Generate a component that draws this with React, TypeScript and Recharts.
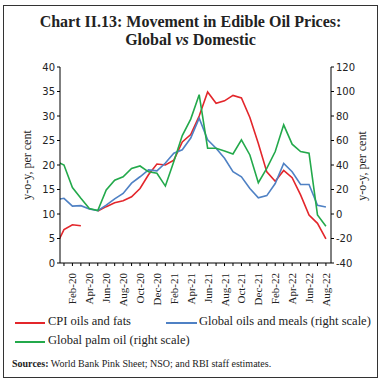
import React from "react";
import { LineChart, Line, XAxis, YAxis } from "recharts";

const months = [
  "Dec-19", "Jan-20", "Feb-20", "Mar-20", "Apr-20", "May-20", "Jun-20", "Jul-20", "Aug-20",
  "Sep-20", "Oct-20", "Nov-20", "Dec-20", "Jan-21", "Feb-21", "Mar-21", "Apr-21", "May-21",
  "Jun-21", "Jul-21", "Aug-21", "Sep-21", "Oct-21", "Nov-21", "Dec-21", "Jan-22", "Feb-22",
  "Mar-22", "Apr-22", "May-22", "Jun-22", "Jul-22", "Aug-22",
];

// left scale, per cent
const cpiOilsFats = [
  3.3, 6.8, 7.8, 7.6, null, 10.6, 11.5, 12.3, 12.7, 13.5, 15.2, 18.0, 20.2, 20.0, 21.0, 24.7,
  26.2, 30.0, 34.9, 32.6, 33.1, 34.2, 33.7, 29.7, 24.4, 18.6, 16.7, 18.9, 17.4, 13.9, 9.8, 8.1, 4.9,
];

// right scale
const globalOilsMeals = [
  11.6, 12.8, 6.4, 6.8, 4.0, 2.8, 7.2, 12.4, 16.8, 25.2, 30.4, 36.0, 35.2, 41.6, 49.6, 52.4,
  62.0, 78.2, 60.5, 53.7, 45.5, 34.5, 30.4, 20.8, 13.2, 15.0, 24.9, 41.3, 34.5, 24.1, 24.1, 7.1, 5.7,
];

const globalPalmOil = [
  43.4, 40.0, 21.6, 12.8, 4.4, 2.8, 19.6, 27.6, 30.4, 37.2, 39.2, 34.4, 33.2, 22.8, 42.8, 64.0,
  77.5, 97.4, 53.7, 53.7, 51.5, 49.0, 60.5, 48.2, 25.5, 37.3, 51.0, 72.8, 57.0, 51.0, 49.6, -0.8, -10.0,
];

const leftTicks = [0, 5, 10, 15, 20, 25, 30, 35, 40];
const rightTicks = [-40, -20, 0, 20, 40, 60, 80, 100, 120];
const xTicks = months.map((_, i) => i).filter((i) => i >= 1);

const data = months.map((m, i) => ({
  idx: i,
  month: m,
  cpi: cpiOilsFats[i],
  oils: globalOilsMeals[i],
  palm: globalPalmOil[i],
}));

const RED = "#e3262b";
const BLUE = "#4f81c4";
const GREEN = "#23a94b";
const serif = "'Liberation Serif', 'Times New Roman', serif";
const sans = "'DejaVu Sans', Verdana, sans-serif";

function XTick(props: any) {
  const { x, y, payload } = props;
  const i = payload.value;
  if (i % 2 !== 0) return null;
  return (
    <text
      transform={`translate(${x + 4},${y + 5}) rotate(-90)`}
      textAnchor="end"
      fontFamily={serif}
      fontSize={11}
      fill="#222"
    >
      {months[i]}
    </text>
  );
}

const rotLabel = (x: number, y: number): React.CSSProperties => ({
  position: "absolute",
  left: x,
  top: y,
  transform: "translate(-50%, -50%) rotate(-90deg)",
  whiteSpace: "nowrap",
  fontFamily: serif,
  fontSize: 12,
  color: "#222",
});

export default function App() {
  return (
    <div
      style={{
        position: "absolute",
        left: 0,
        top: 0,
        width: 381,
        height: 384,
        background: "#fff",
        overflow: "hidden",
      }}
    >
      <div
        style={{
          position: "absolute",
          left: 3,
          top: 5,
          width: 373,
          height: 371,
          border: "1px solid #333",
        }}
      />
      <div
        style={{
          position: "absolute",
          left: 0,
          top: 13,
          width: 381,
          textAlign: "center",
          fontFamily: serif,
          fontWeight: "bold",
          fontSize: 16,
          lineHeight: "18px",
          color: "#222",
        }}
      >
        Chart II.13: Movement in Edible Oil Prices:
        <br />
        Global <i>vs</i> Domestic
      </div>

      <div style={{ position: "absolute", left: 0, top: 0 }}>
        <LineChart
          width={381}
          height={384}
          data={data}
          margin={{ top: 67, right: 10, bottom: 76, left: 15 }}
        >
          <XAxis
            dataKey="idx"
            type="number"
            domain={[0.53, 32.6]}
            ticks={xTicks}
            interval={0}
            allowDataOverflow
            height={45}
            tickSize={3}
            tick={<XTick />}
            axisLine={{ stroke: "#000" }}
            tickLine={{ stroke: "#000" }}
          />
          <YAxis
            yAxisId="left"
            domain={[0, 40]}
            ticks={leftTicks}
            width={45}
            tickSize={3}
            axisLine={{ stroke: "#000" }}
            tickLine={{ stroke: "#000" }}
            tick={{ fontFamily: sans, fontSize: 10, fill: "#222" }}
          />
          <YAxis
            yAxisId="right"
            orientation="right"
            domain={[-40, 120]}
            ticks={rightTicks}
            width={40}
            tickSize={3}
            axisLine={{ stroke: "#000" }}
            tickLine={{ stroke: "#000" }}
            tick={{ fontFamily: sans, fontSize: 10, fill: "#222" }}
          />
          <Line
            yAxisId="left"
            dataKey="cpi"
            stroke={RED}
            strokeWidth={1.6}
            dot={false}
            isAnimationActive={false}
          />
          <Line
            yAxisId="right"
            dataKey="oils"
            stroke={BLUE}
            strokeWidth={1.6}
            dot={false}
            isAnimationActive={false}
          />
          <Line
            yAxisId="right"
            dataKey="palm"
            stroke={GREEN}
            strokeWidth={1.6}
            dot={false}
            isAnimationActive={false}
          />
        </LineChart>
      </div>

      <div style={rotLabel(27, 165)}>y-o-y, per cent</div>
      <div style={rotLabel(362, 166)}>y-o-y, per cent</div>

      {/* legend */}
      <div style={{ position: "absolute", left: 15, top: 322, width: 30, height: 2, background: RED }} />
      <div style={{ position: "absolute", left: 48, top: 314, fontFamily: serif, fontSize: 12.5, color: "#222" }}>
        CPI oils and fats
      </div>
      <div style={{ position: "absolute", left: 166, top: 322, width: 31, height: 2, background: BLUE }} />
      <div style={{ position: "absolute", left: 199, top: 314, fontFamily: serif, fontSize: 12.5, color: "#222" }}>
        Global oils and meals (right scale)
      </div>
      <div style={{ position: "absolute", left: 15, top: 341, width: 30, height: 1.5, background: GREEN }} />
      <div style={{ position: "absolute", left: 48, top: 333, fontFamily: serif, fontSize: 12.5, color: "#222" }}>
        Global palm oil (right scale)
      </div>

      <div
        style={{
          position: "absolute",
          left: 12,
          top: 358,
          fontFamily: serif,
          fontSize: 10,
          color: "#222",
          whiteSpace: "nowrap",
        }}
      >
        <b>Sources:</b> World Bank Pink Sheet; NSO; and RBI staff estimates.
      </div>
    </div>
  );
}
